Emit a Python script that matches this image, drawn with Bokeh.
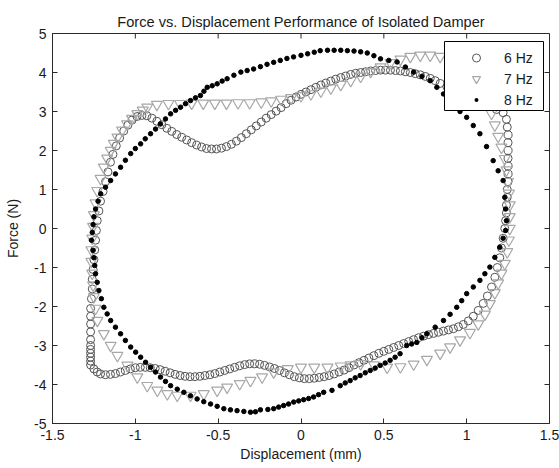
import math
from bokeh.plotting import figure
from bokeh.models import Range1d, FixedTicker, Legend, LegendItem, BoxAnnotation
from bokeh.embed import file_html
from bokeh.resources import INLINE

# ---- data: (displacement mm, force N) ----
loop_6hz = [
    (-1.27,-3.5),(-1.27,-3.4),(-1.27,-3.3),(-1.27,-3.2),(-1.27,-3.1),(-1.27,-3.0),(-1.27,-2.85),
    (-1.27,-2.65),(-1.27,-2.45),(-1.27,-2.25),(-1.27,-2.05),(-1.265,-1.8),(-1.26,-1.55),(-1.26,-1.3),
    (-1.255,-1.05),(-1.25,-0.8),(-1.245,-0.55),(-1.24,-0.3),(-1.235,-0.05),(-1.23,0.2),(-1.22,0.45),
    (-1.21,0.7),(-1.195,0.95),(-1.18,1.2),(-1.165,1.45),(-1.15,1.7),(-1.135,1.9),(-1.115,2.12),
    (-1.095,2.32),(-1.07,2.5),(-1.045,2.65),(-1.02,2.78),(-0.99,2.87),(-0.96,2.9),(-0.93,2.89),
    (-0.9,2.83),(-0.87,2.75),(-0.84,2.66),(-0.81,2.57),(-0.78,2.49),(-0.75,2.41),(-0.72,2.34),
    (-0.69,2.27),(-0.66,2.2),(-0.63,2.14),(-0.6,2.09),(-0.57,2.05),(-0.54,2.04),(-0.51,2.04),
    (-0.48,2.06),(-0.45,2.1),(-0.42,2.16),(-0.39,2.24),(-0.36,2.33),(-0.33,2.43),(-0.30,2.53),
    (-0.27,2.63),(-0.24,2.73),(-0.21,2.83),(-0.18,2.92),(-0.15,3.01),(-0.12,3.1),(-0.09,3.2),
    (-0.06,3.29),(-0.03,3.37),(0.0,3.44),(0.03,3.5),(0.06,3.56),(0.09,3.62),(0.12,3.68),(0.15,3.73),
    (0.18,3.78),(0.21,3.83),(0.24,3.87),(0.27,3.91),(0.30,3.95),(0.33,3.98),(0.36,4.0),(0.39,4.02),
    (0.42,4.04),(0.45,4.05),(0.48,4.06),(0.51,4.06),(0.54,4.06),(0.57,4.05),(0.60,4.04),(0.63,4.02),
    (0.66,4.0),(0.69,3.97),(0.72,3.94),(0.75,3.9),(0.78,3.85),(0.81,3.79),(0.84,3.72),(0.88,3.64),
    (0.93,3.54),(0.98,3.44),(1.03,3.34),(1.08,3.24),(1.13,3.14),(1.18,3.05),(1.22,2.97),
    (1.24,2.8),(1.245,2.6),(1.25,2.4),(1.25,2.2),(1.25,2.0),(1.25,1.8),(1.25,1.6),(1.25,1.4),
    (1.25,1.2),(1.245,1.0),(1.245,0.8),(1.24,0.6),(1.24,0.4),(1.235,0.2),(1.23,0.0),(1.22,-0.25),
    (1.21,-0.5),(1.2,-0.75),(1.185,-1.0),(1.17,-1.25),(1.15,-1.5),(1.125,-1.73),(1.1,-1.92),
    (1.07,-2.1),(1.04,-2.25),(1.01,-2.37),(0.98,-2.46),(0.95,-2.52),(0.92,-2.57),(0.89,-2.6),
    (0.86,-2.63),(0.83,-2.66),(0.80,-2.69),(0.77,-2.72),(0.74,-2.76),(0.71,-2.8),(0.68,-2.85),
    (0.65,-2.9),(0.62,-2.95),(0.59,-3.0),(0.56,-3.05),(0.53,-3.1),(0.50,-3.15),(0.47,-3.2),
    (0.44,-3.26),(0.41,-3.32),(0.38,-3.38),(0.35,-3.44),(0.32,-3.5),(0.29,-3.57),(0.26,-3.63),
    (0.23,-3.68),(0.20,-3.73),(0.17,-3.77),(0.14,-3.8),(0.11,-3.82),(0.08,-3.84),(0.05,-3.85),
    (0.02,-3.85),(-0.01,-3.83),(-0.04,-3.8),(-0.07,-3.75),(-0.10,-3.7),(-0.13,-3.64),(-0.16,-3.59),
    (-0.19,-3.55),(-0.22,-3.51),(-0.25,-3.48),(-0.28,-3.47),(-0.31,-3.47),(-0.34,-3.49),(-0.37,-3.52),
    (-0.40,-3.56),(-0.43,-3.6),(-0.46,-3.64),(-0.49,-3.68),(-0.52,-3.72),(-0.55,-3.75),(-0.58,-3.77),
    (-0.61,-3.79),(-0.64,-3.8),(-0.67,-3.8),(-0.70,-3.79),(-0.73,-3.77),(-0.76,-3.74),(-0.79,-3.7),
    (-0.82,-3.66),(-0.85,-3.62),(-0.88,-3.59),(-0.91,-3.57),(-0.94,-3.56),(-0.97,-3.56),(-1.0,-3.57),
    (-1.03,-3.6),(-1.06,-3.64),(-1.09,-3.68),(-1.12,-3.72),(-1.15,-3.74),(-1.18,-3.75),(-1.21,-3.73),
    (-1.23,-3.68),(-1.25,-3.6),
]

loop_7hz = [
    (-1.229,-2.36),(-1.24,-2.05),(-1.25,-1.75),(-1.255,-1.45),(-1.26,-1.15),(-1.265,-0.85),
    (-1.265,-0.55),(-1.26,-0.25),(-1.255,0.05),(-1.25,0.35),(-1.24,0.65),(-1.23,0.97),(-1.21,1.28),
    (-1.19,1.57),(-1.17,1.8),(-1.149,2.0),(-1.13,2.18),(-1.108,2.34),(-1.08,2.52),(-1.05,2.68),
    (-1.02,2.82),(-0.988,2.94),(-0.955,3.03),(-0.928,3.11),(-0.87,3.18),(-0.8,3.2),(-0.73,3.2),
    (-0.66,3.21),(-0.59,3.21),(-0.52,3.21),(-0.45,3.21),(-0.38,3.22),(-0.31,3.22),(-0.24,3.24),
    (-0.18,3.27),(-0.12,3.31),(-0.06,3.35),(0.0,3.4),(0.06,3.45),(0.12,3.52),(0.18,3.6),(0.24,3.69),
    (0.3,3.79),(0.36,3.9),(0.42,4.02),(0.48,4.14),(0.54,4.25),(0.6,4.34),(0.66,4.41),(0.72,4.44),
    (0.78,4.44),(0.84,4.41),(0.9,4.35),(0.96,4.25),(1.02,4.1),(1.07,3.85),(1.11,3.55),(1.135,3.25),
    (1.15,2.95),(1.17,2.65),(1.19,2.36),(1.21,2.08),(1.23,1.79),(1.24,1.5),(1.25,1.2),(1.255,0.9),
    (1.26,0.6),(1.26,0.3),(1.26,0.0),(1.255,-0.3),(1.245,-0.6),(1.23,-0.9),(1.21,-1.15),(1.19,-1.4),
    (1.17,-1.65),(1.14,-1.93),(1.11,-2.2),(1.07,-2.45),(1.02,-2.67),(0.96,-2.86),(0.9,-3.04),
    (0.84,-3.2),(0.76,-3.36),(0.68,-3.48),(0.6,-3.55),(0.52,-3.56),(0.44,-3.5),(0.36,-3.47),
    (0.3,-3.5),(0.24,-3.53),(0.16,-3.56),(0.08,-3.56),(0.0,-3.56),(-0.08,-3.6),(-0.165,-3.68),
    (-0.235,-3.81),(-0.305,-3.9),(-0.37,-3.98),(-0.446,-4.07),(-0.506,-4.15),(-0.587,-4.24),
    (-0.667,-4.28),(-0.747,-4.28),(-0.807,-4.24),(-0.867,-4.15),(-0.928,-4.03),(-0.988,-3.81),
    (-1.048,-3.51),(-1.108,-3.26),(-1.149,-3.0),(-1.19,-2.7),
]

loop_8hz = [
    (-1.265,-0.3),(-1.26,-0.1),(-1.255,0.1),(-1.25,0.3),(-1.24,0.5),(-1.225,0.7),(-1.209,0.89),
    (-1.18,1.06),(-1.149,1.23),(-1.12,1.4),(-1.089,1.57),(-1.06,1.75),(-1.028,1.92),(-1.0,2.05),
    (-0.968,2.17),(-0.94,2.3),(-0.908,2.43),(-0.878,2.55),(-0.848,2.68),(-0.818,2.81),(-0.787,2.94),
    (-0.757,3.03),(-0.727,3.11),(-0.697,3.2),(-0.667,3.28),(-0.637,3.35),(-0.607,3.41),(-0.586,3.52),
    (-0.566,3.62),(-0.536,3.66),(-0.506,3.71),(-0.476,3.78),(-0.446,3.84),(-0.405,3.93),(-0.363,4.01),
    (-0.325,4.05),(-0.286,4.09),(-0.245,4.15),(-0.205,4.21),(-0.165,4.26),(-0.125,4.31),(-0.085,4.36),
    (-0.045,4.4),(0.0,4.44),(0.04,4.48),(0.08,4.52),(0.116,4.56),(0.16,4.57),(0.2,4.57),(0.24,4.57),
    (0.28,4.56),(0.32,4.55),(0.36,4.53),(0.4,4.5),(0.44,4.43),(0.48,4.35),(0.53,4.31),(0.58,4.27),
    (0.63,4.14),(0.68,4.01),(0.73,3.9),(0.78,3.79),(0.82,3.62),(0.86,3.45),(0.9,3.3),(0.93,3.15),
    (0.96,3.0),(1.0,2.85),(1.04,2.64),(1.08,2.43),(1.12,2.1),(1.16,1.74),(1.19,1.48),(1.22,1.23),
    (1.23,0.8),(1.235,0.5),(1.24,0.2),(1.235,-0.05),(1.22,-0.25),(1.2,-0.48),(1.17,-0.74),
    (1.14,-0.99),(1.11,-1.16),(1.08,-1.33),(1.04,-1.5),(1.0,-1.67),(0.97,-1.85),(0.94,-2.02),
    (0.9,-2.2),(0.86,-2.36),(0.81,-2.53),(0.76,-2.7),(0.73,-2.8),(0.699,-2.92),(0.668,-2.96),
    (0.638,-3.0),(0.598,-3.21),(0.568,-3.3),(0.538,-3.38),(0.508,-3.45),(0.478,-3.51),(0.448,-3.58),
    (0.418,-3.64),(0.388,-3.7),(0.357,-3.77),(0.327,-3.83),(0.297,-3.9),(0.267,-3.96),(0.237,-4.03),
    (0.187,-4.15),(0.137,-4.2),(0.106,-4.26),(0.076,-4.32),(0.046,-4.36),(0.016,-4.39),(-0.014,-4.42),
    (-0.044,-4.45),(-0.075,-4.5),(-0.105,-4.54),(-0.135,-4.58),(-0.165,-4.62),(-0.2,-4.64),
    (-0.245,-4.65),(-0.275,-4.7),(-0.305,-4.71),(-0.345,-4.69),(-0.386,-4.67),(-0.426,-4.65),
    (-0.466,-4.62),(-0.506,-4.56),(-0.546,-4.5),(-0.587,-4.44),(-0.627,-4.37),(-0.667,-4.29),
    (-0.707,-4.2),(-0.747,-4.12),(-0.787,-4.03),(-0.818,-3.92),(-0.848,-3.81),(-0.878,-3.68),
    (-0.908,-3.56),(-0.938,-3.43),(-0.968,-3.3),(-0.998,-3.17),(-1.028,-3.04),(-1.06,-2.87),
    (-1.089,-2.7),(-1.12,-2.53),(-1.149,-2.36),(-1.17,-2.19),(-1.19,-2.02),(-1.205,-1.8),
    (-1.22,-1.59),(-1.23,-1.38),(-1.24,-1.16),(-1.245,-0.95),(-1.25,-0.75),(-1.255,-0.56),
]

series_labels = ["6 Hz", "7 Hz", "8 Hz"]
x_ticks = [-1.5, -1, -0.5, 0, 0.5, 1, 1.5]
x_tick_labels = ["-1.5", "-1", "-0.5", "0", "0.5", "1", "1.5"]
y_ticks = [-5, -4, -3, -2, -1, 0, 1, 2, 3, 4, 5]
y_tick_labels = ["-5", "-4", "-3", "-2", "-1", "0", "1", "2", "3", "4", "5"]
x_lim = (-1.5, 1.5)
y_lim = (-5, 5)

FONT = "Liberation Sans"
AXC = "#2a2a2a"
TXT = "#1a1a1a"

p = figure(width=559, height=468, output_backend="svg", toolbar_location=None,
           x_range=Range1d(*x_lim), y_range=Range1d(*y_lim),
           min_border_left=52, min_border_right=10, min_border_top=33, min_border_bottom=45,
           title="Force vs. Displacement Performance of Isolated Damper")
p.background_fill_color = "white"
p.border_fill_color = "white"
p.outline_line_color = AXC
p.xgrid.visible = False
p.ygrid.visible = False

p.title.align = "center"
p.title.text_font = FONT
p.title.text_font_size = "14.6px"
p.title.text_font_style = "normal"
p.title.text_color = TXT
p.title.standoff = 8

def style_axis(ax, ticks, labels):
    ax.ticker = FixedTicker(ticks=ticks)
    ax.major_label_overrides = {t: l for t, l in zip(ticks, labels)}
    ax.major_tick_in = 5
    ax.major_tick_out = 0
    ax.minor_tick_line_color = None
    ax.major_tick_line_color = AXC
    ax.axis_line_color = AXC
    ax.major_label_text_font = FONT
    ax.major_label_text_color = TXT
    ax.major_label_text_font_size = "14px"
    ax.major_label_standoff = 6
    ax.axis_label_text_font = FONT
    ax.axis_label_text_font_size = "14px"
    ax.axis_label_text_font_style = "normal"
    ax.axis_label_text_color = TXT

style_axis(p.xaxis[0], x_ticks, x_tick_labels)
style_axis(p.yaxis[0], y_ticks, y_tick_labels)
p.xaxis.axis_label = "Displacement (mm)"
p.yaxis.axis_label = "Force (N)"
p.xaxis.axis_label_standoff = 3
p.yaxis.axis_label_standoff = 10

# inward tick marks on the top and right edges of the box (MATLAB "box on")
p.ray(x=x_ticks, y=[y_lim[1]] * len(x_ticks), length=5, length_units="screen",
      angle=-math.pi / 2, line_color=AXC, line_width=1)
p.ray(x=[x_lim[1]] * len(y_ticks), y=y_ticks, length=5, length_units="screen",
      angle=math.pi, line_color=AXC, line_width=1)

x6 = [pt[0] for pt in loop_6hz]; y6 = [pt[1] for pt in loop_6hz]
x7 = [pt[0] for pt in loop_7hz]; y7 = [pt[1] for pt in loop_7hz]
x8 = [pt[0] for pt in loop_8hz]; y8 = [pt[1] for pt in loop_8hz]

# legend key for the small dot: white rim shrinks the visible disk; drawn first so that
# its single (first 8 Hz) point is hidden under the real markers
r8_key = p.scatter(x8[:1], y8[:1], marker="circle", size=4, line_color="white", line_width=4,
                   fill_color="black")
r6 = p.scatter(x6, y6, marker="circle", size=8, line_color="#555555", fill_color=None, line_width=1)
r7 = p.scatter(x7, y7, marker="inverted_triangle", size=11, line_color="#a8a8a8", fill_color=None, line_width=1.2)
r8 = p.scatter(x8, y8, marker="circle", size=4.5, line_color="black", fill_color="black")

# legend frame (MATLAB-style opaque box), in canvas pixels
legend_box = BoxAnnotation(left=444, right=543, top=41, bottom=110,
                           left_units="canvas", right_units="canvas",
                           top_units="canvas", bottom_units="canvas",
                           fill_color="white", fill_alpha=1.0,
                           line_color="black", line_width=1, line_alpha=1.0)
p.add_layout(legend_box)

legend = Legend(items=[LegendItem(label=series_labels[0], renderers=[r6]),
                       LegendItem(label=series_labels[1], renderers=[r7]),
                       LegendItem(label=series_labels[2], renderers=[r8_key])],
                location=(414, 313), margin=0, padding=3, spacing=0,
                label_height=21, glyph_height=21, glyph_width=20, label_standoff=18, label_width=36,
                border_line_color=None, background_fill_alpha=0.0,
                label_text_font=FONT, label_text_font_size="14px", label_text_color=TXT)
p.add_layout(legend)

open("out.html", "w").write(file_html(p, INLINE))
